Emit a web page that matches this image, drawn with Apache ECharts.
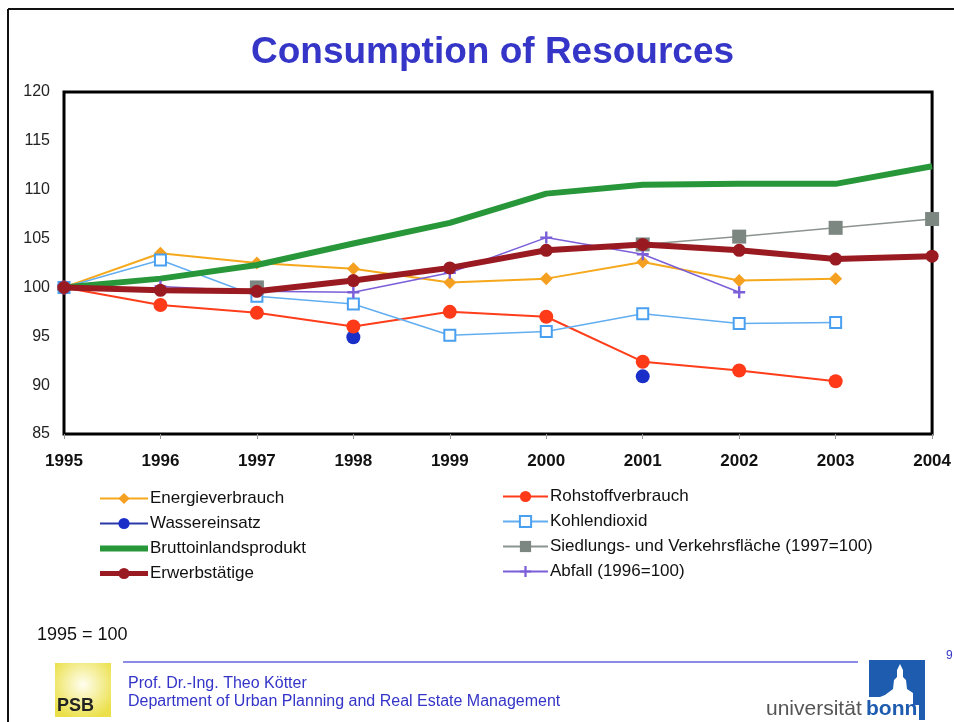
<!DOCTYPE html>
<html>
<head>
<meta charset="utf-8">
<script src="https://cdn.jsdelivr.net/npm/echarts@6/dist/echarts.min.js"></script>
<style>
  html, body { margin: 0; padding: 0; background: #fff; }
  #chart { width: 954px; height: 722px; }
</style>
</head>
<body>
<div id="chart"></div>
<script>
// years on the x axis
const years = ["1995", "1996", "1997", "1998", "1999", "2000", "2001", "2002", "2003", "2004"];

// index values, 1995 = 100
const energie = [100, 103.5, 102.5, 101.9, 100.5, 100.9, 102.6, 100.7, 100.9, null];
const wasser = [100, null, null, 94.9, null, null, 90.9, null, null, null];
const bip = [100, 100.9, 102.3, 104.5, 106.6, 109.6, 110.5, 110.6, 110.6, 112.4];
const erwerb = [100, 99.7, 99.6, 100.7, 102.0, 103.8, 104.4, 103.8, 102.9, 103.2];
const rohstoff = [100, 98.2, 97.4, 96.0, 97.5, 97.0, 92.4, 91.5, 90.4, null];
const kohlen = [100, 102.8, 99.1, 98.3, 95.1, 95.5, 97.3, 96.3, 96.4, null];
const siedlung = [null, null, 100, null, null, null, 104.4, 105.2, 106.1, 107.0];
const abfall = [null, 100.1, 99.6, 99.5, 101.5, 105.1, 103.4, 99.5, null, null];

const yTicks = { min: 85, max: 120, step: 5 };

const plusIcon = "path://M4,0H6V4H10V6H6V10H4V6H0V4H4Z";
const font = "Liberation Sans, Arial, sans-serif";

const chart = echarts.init(document.getElementById("chart"));

chart.setOption({
  backgroundColor: "#fff",
  animation: false,
  textStyle: { fontFamily: font },

  title: {
    text: "Consumption of Resources",
    left: 246,
    top: 29,
    textStyle: { color: "#3535c8", fontSize: 37, fontWeight: "bold" }
  },

  grid: {
    left: 64, top: 92, right: 21, bottom: 288,
    show: true,
    borderColor: "#000",
    borderWidth: 3
  },

  legend: [
    {
      data: [
        "Energieverbrauch",
        "Wassereinsatz",
        { name: "Bruttoinlandsprodukt", lineStyle: { width: 6 }, itemStyle: { opacity: 0 } },
        { name: "Erwerbstätige", lineStyle: { width: 5 } }
      ],
      orient: "vertical",
      left: 92, top: 485,
      itemWidth: 48, itemHeight: 14, itemGap: 8,
      textStyle: { fontSize: 17, color: "#111", padding: [0, 0, 0, -3] }
    },
    {
      data: ["Rohstoffverbrauch", "Kohlendioxid", "Siedlungs- und Verkehrsfläche (1997=100)", "Abfall (1996=100)"],
      orient: "vertical",
      left: 497, top: 483,
      itemWidth: 45, itemHeight: 14, itemGap: 8,
      textStyle: { fontSize: 17, color: "#111", padding: [0, 0, 0, -3] }
    }
  ],

  xAxis: {
    type: "category",
    data: years,
    boundaryGap: false,
    axisLine: { show: false },
    axisTick: { show: true, length: 5, lineStyle: { color: "#999" } },
    axisLabel: { color: "#111", fontSize: 17, fontWeight: "bold", margin: 19 },
    splitLine: { show: false }
  },

  yAxis: {
    type: "value",
    min: yTicks.min,
    max: yTicks.max,
    interval: yTicks.step,
    axisLine: { show: false },
    axisTick: { show: false },
    axisLabel: { color: "#222", fontSize: 16, margin: 14 },
    splitLine: { show: false }
  },

  series: [
    {
      name: "Energieverbrauch", type: "line", data: energie, z: 3,
      symbol: "diamond", symbolSize: 13,
      lineStyle: { color: "#f5a81c", width: 2 },
      itemStyle: { color: "#f5a020" }
    },
    {
      name: "Wassereinsatz", type: "line", data: wasser, z: 3,
      symbol: "circle", symbolSize: 14,
      lineStyle: { color: "#2a3aa8", width: 2 },
      itemStyle: { color: "#1a2fc8" }
    },
    {
      name: "Bruttoinlandsprodukt", type: "line", data: bip, z: 4,
      showSymbol: false, symbol: "none",
      lineStyle: { color: "#27973a", width: 6 },
      itemStyle: { color: "#27973a" }
    },
    {
      name: "Rohstoffverbrauch", type: "line", data: rohstoff, z: 3,
      symbol: "circle", symbolSize: 14,
      lineStyle: { color: "#ff3d1a", width: 2 },
      itemStyle: { color: "#ff3a18" }
    },
    {
      name: "Kohlendioxid", type: "line", data: kohlen, z: 3,
      symbol: "emptyRect", symbolSize: 11,
      lineStyle: { color: "#62aef0", width: 1.5 },
      itemStyle: { color: "#4aa0f0", borderWidth: 1.5 }
    },
    {
      name: "Siedlungs- und Verkehrsfläche (1997=100)", type: "line", data: siedlung, z: 4,
      symbol: "rect", symbolSize: 14,
      lineStyle: { color: "#8c948f", width: 1.5 },
      itemStyle: { color: "#7d8782" }
    },
    {
      name: "Abfall (1996=100)", type: "line", data: abfall, z: 4,
      symbol: plusIcon, symbolSize: 12,
      lineStyle: { color: "#7b5ed8", width: 1.5 },
      itemStyle: { color: "#7b5ed8" }
    },
    {
      name: "Erwerbstätige", type: "line", data: erwerb, z: 5,
      symbol: "circle", symbolSize: 13,
      lineStyle: { color: "#9a1a22", width: 6 },
      itemStyle: { color: "#9a1a22" }
    }
  ],

  graphic: [
    // slide frame (top and left edge)
    { type: "line", shape: { x1: 8, y1: 9, x2: 954, y2: 9 }, style: { stroke: "#111", lineWidth: 2 } },
    { type: "line", shape: { x1: 8, y1: 9, x2: 8, y2: 722 }, style: { stroke: "#111", lineWidth: 2 } },

    { type: "text", left: 37, top: 626, style: { text: "1995 = 100", font: "18px " + font, fill: "#111" } },

    // footer
    { type: "line", shape: { x1: 123, y1: 662, x2: 858, y2: 662 }, style: { stroke: "#8c8ce6", lineWidth: 2 } },
    { type: "text", left: 128, top: 676, style: { text: "Prof. Dr.-Ing. Theo Kötter", font: "16px " + font, fill: "#3434c8" } },
    { type: "text", left: 128, top: 694, style: { text: "Department of Urban Planning and Real Estate Management", font: "16px " + font, fill: "#3434c8" } },
    { type: "text", left: 946, top: 650, style: { text: "9", font: "12px " + font, fill: "#3434c8" } },

    // PSB logo
    {
      type: "rect", shape: { x: 55, y: 663, width: 56, height: 54 },
      style: {
        fill: {
          type: "radial", x: 0.5, y: 0.4, r: 0.65,
          colorStops: [{ offset: 0, color: "#fffef0" }, { offset: 1, color: "#ebe04a" }]
        }
      }
    },
    { type: "text", left: 57, top: 697, style: { text: "PSB", font: "bold 18px " + font, fill: "#222" } },

    // universität bonn logo
    {
      type: "polygon",
      shape: { points: [[869, 660], [925, 660], [925, 720], [919, 720], [919, 705], [913, 705], [913, 693], [907, 689], [906, 680], [903, 677], [903, 670], [900, 664], [897, 670], [897, 677], [894, 680], [893, 689], [885, 695], [880, 697], [869, 697]] },
      style: { fill: "#1e5cb0" }
    },
    { type: "text", left: 766, top: 699, style: { text: "universität", font: "21px " + font, fill: "#555" } },
    { type: "text", left: 866, top: 699, style: { text: "bonn", font: "bold 21px " + font, fill: "#1e5cb0" } }
  ]
});
</script>
</body>
</html>
